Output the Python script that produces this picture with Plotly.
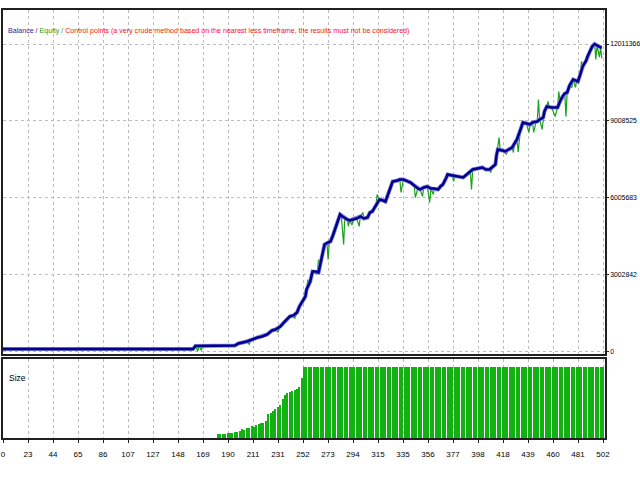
import plotly.graph_objects as go

# ---------------- data ----------------
x_tick_labels = ["0", "23", "44", "65", "86", "107", "127", "148", "169", "190", "211", "231",
                 "252", "273", "294", "315", "335", "356", "377", "398", "418", "439", "460",
                 "481", "502"]
y_tick_values = [0, 3002842, 6005683, 9008525, 12011366]

balance_t = [0, 159, 161, 194, 197, 204, 213, 217, 221, 225, 228, 232, 235, 238, 240, 243, 246,
             248, 250, 253, 254, 257, 259, 262, 264, 266, 269, 272, 274, 276, 278, 280, 282, 284,
             288, 290, 293, 296, 299, 302, 305, 307, 309, 312, 315, 318, 320, 323, 326, 330, 332,
             335, 337, 341, 344, 347, 349, 352, 355, 358, 361, 364, 366, 368, 371, 372, 376, 380,
             382, 385, 388, 391, 393, 397, 401, 404, 407, 410, 412, 413, 414, 418, 420, 423, 426,
             428, 430, 433, 435, 438, 441, 443, 447, 449, 452, 453, 455, 459, 464, 466, 468, 470,
             472, 474, 477, 479, 481, 483, 485, 488, 489, 491, 493, 495, 497, 500, 501]
balance_v = [117000, 117000, 234000, 253500, 331500, 409500, 565500, 604500, 682500, 838500,
             877500, 994500, 1150500, 1306500, 1384500, 1423500, 1540500, 1774500, 1930500,
             2164500, 2437500, 2749500, 3139500, 3139500, 3100500, 3529500, 4192500, 4270500,
             4309500, 4543500, 4777500, 5089500, 5362500, 5284500, 5167500, 5128500, 5167500,
             5206500, 5284500, 5206500, 5245500, 5440500, 5479500, 5713500, 5947500, 5908500,
             5869500, 6259500, 6649500, 6688500, 6727500, 6727500, 6688500, 6610500, 6493500,
             6376500, 6337500, 6415500, 6454500, 6376500, 6376500, 6337500, 6454500, 6532500,
             6805500, 6922500, 6883500, 6844500, 6805500, 6805500, 6922500, 7039500, 7117500,
             7156500, 7195500, 7117500, 7117500, 7234500, 7312500, 7702500, 7897500, 7858500,
             7819500, 7897500, 7975500, 8131500, 8287500, 8677500, 8950500, 8911500, 8872500,
             8950500, 8989500, 9067500, 9145500, 9379500, 9574500, 9535500, 9535500, 9769500,
             9964500, 10081500, 10120500, 10393500, 10627500, 10588500, 10549500, 10822500,
             11134500, 11368500, 11524500, 11719500, 11914500, 12011366, 11953500, 11875500,
             11875500]

equity_t = [0, 159, 161, 163, 164, 166, 167, 194, 197, 204, 206, 207, 213, 221, 225, 228, 230,
            232, 238, 240, 243, 244, 246, 250, 253, 254, 255, 257, 259, 263, 264, 265, 266, 269,
            271, 272, 273, 274, 278, 280, 282, 283, 284, 285, 286, 288, 289, 290, 292, 293, 296,
            298, 299, 301, 302, 305, 307, 309, 312, 313, 315, 318, 320, 323, 326, 330, 332, 333,
            335, 337, 341, 344, 345, 347, 349, 351, 352, 355, 357, 358, 360, 361, 364, 366, 368,
            371, 372, 376, 377, 378, 380, 382, 385, 388, 391, 392, 393, 397, 401, 404, 407, 408,
            410, 412, 413, 414, 415, 416, 418, 420, 421, 423, 426, 427, 428, 430, 431, 432, 433,
            435, 438, 440, 441, 443, 444, 446, 447, 448, 449, 451, 452, 453, 455, 456, 457, 459,
            462, 464, 465, 466, 468, 470, 471, 472, 474, 476, 477, 479, 480, 481, 483, 484, 485,
            488, 489, 491, 493, 495, 496, 497, 499, 500, 501]
equity_v = [117000, 117000, 234000, 30000, 234000, 60000, 234000, 253500, 331500, 409500,
            300000, 409500, 565500, 682500, 838500, 877500, 780000, 994500, 1306500, 1384500,
            1423500, 1300000, 1540500, 1930500, 2164500, 2437500, 2800000, 2749500, 3139500,
            3139500, 3607500, 3100500, 3529500, 4192500, 4250000, 3607500, 4290000, 4309500,
            4777500, 5089500, 5362500, 5330000, 4777500, 4192500, 5250000, 5167500, 4900000,
            5128500, 4950000, 5167500, 5206500, 4900000, 5284500, 5440500, 5206500, 5245500,
            5440500, 5479500, 5713500, 6142500, 5947500, 5908500, 5869500, 6259500, 6649500,
            6688500, 6727500, 6220000, 6727500, 6688500, 6610500, 6493500, 6025000, 6376500,
            6337500, 6064500, 6415500, 6454500, 5830000, 6376500, 6142500, 6376500, 6337500,
            6454500, 6532500, 6805500, 6922500, 6883500, 6650000, 6870000, 6844500, 6805500,
            6805500, 6922500, 7039500, 6337500, 7117500, 7156500, 7195500, 7117500, 7117500,
            7000000, 7234500, 7312500, 7702500, 7897500, 8365500, 7880000, 7858500, 7819500,
            7702500, 7897500, 7975500, 7780000, 8131500, 8287500, 7800000, 8400000, 8677500,
            8950500, 8911500, 8560500, 8872500, 8950500, 8560000, 8970000, 8989500, 9847500,
            9067500, 8677500, 9145500, 9379500, 9574500, 9769500, 9550000, 9535500, 9184500,
            9535500, 10159500, 9769500, 9964500, 10081500, 9184500, 10120500, 10393500,
            10315000, 10627500, 10315000, 10588500, 10549500, 10822500, 11329500, 11134500,
            11368500, 11524500, 11719500, 11914500, 12011366, 11407500, 11953500, 11500000,
            11875500, 11450000]

size_t = list(range(180, 503, 2))
size_v = [0.04, 0.04, 0.04, 0.04, 0.05, 0.05, 0.05, 0.06, 0.06, 0.07, 0.09, 0.08, 0.10, 0.10,
          0.12, 0.11, 0.13, 0.14, 0.15, 0.15, 0.17, 0.24, 0.25, 0.27, 0.29, 0.31, 0.33, 0.38,
          0.42, 0.44, 0.45, 0.46, 0.47, 0.48, 0.50, 0.59,
          0.70, 0.70, 0.70, 0.70, 0.70, 0.70, 0.70, 0.70, 0.70, 0.70, 0.70, 0.70, 0.70, 0.70,  # 1
          0.70, 0.70, 0.70, 0.70, 0.70, 0.70, 0.70, 0.70, 0.70, 0.70, 0.70, 0.70, 0.70, 0.70,  # 2
          0.70, 0.70, 0.70, 0.70, 0.70, 0.70, 0.70, 0.70, 0.70, 0.70, 0.70, 0.70, 0.70, 0.70,  # 3
          0.70, 0.70, 0.70, 0.70, 0.70, 0.70, 0.70, 0.70, 0.70, 0.70, 0.70, 0.70, 0.70, 0.70,  # 4
          0.70, 0.70, 0.70, 0.70, 0.70, 0.70, 0.70, 0.70, 0.70, 0.70, 0.70, 0.70, 0.70, 0.70,  # 5
          0.70, 0.70, 0.70, 0.70, 0.70, 0.70, 0.70, 0.70, 0.70, 0.70, 0.70, 0.70, 0.70, 0.70,  # 6
          0.70, 0.70, 0.70, 0.70, 0.70, 0.70, 0.70, 0.70, 0.70, 0.70, 0.70, 0.70, 0.70, 0.70,  # 7
          0.70, 0.70, 0.70, 0.70, 0.70, 0.70, 0.70, 0.70, 0.70, 0.70, 0.70, 0.70, 0.70, 0.70,  # 8
          0.70, 0.70, 0.70, 0.70, 0.70, 0.70, 0.70, 0.70, 0.70, 0.70, 0.70, 0.70, 0.70, 0.70]  # 9

# ---------------- figure ----------------
FONT = "Liberation Sans, Arial, sans-serif"
x_max = 503.67
tickpos = [i * 502 / 24 for i in range(len(x_tick_labels))]

fig = go.Figure()
fig.add_trace(go.Scatter(x=equity_t, y=equity_v, mode="lines",
                         line=dict(color="#1aa01a", width=1.2), xaxis="x", yaxis="y",
                         hoverinfo="skip"))
fig.add_trace(go.Scatter(x=balance_t, y=balance_v, mode="lines",
                         line=dict(color="#8080e0", width=4), xaxis="x", yaxis="y",
                         hoverinfo="skip"))
fig.add_trace(go.Scatter(x=balance_t, y=balance_v, mode="lines",
                         line=dict(color="#00008b", width=2.5), xaxis="x", yaxis="y",
                         hoverinfo="skip"))
fig.add_trace(go.Bar(x=size_t, y=size_v, width=1.0, marker=dict(color="#12b012", line_width=0),
                     xaxis="x2", yaxis="y2", hoverinfo="skip"))

grid = dict(showgrid=True, gridcolor="#bcbcbc", gridwidth=1, griddash="dot")
axbox = dict(showline=True, linecolor="#202020", linewidth=1.5, mirror=True, zeroline=False)

fig.update_layout(
    width=640, height=480,
    margin=dict(l=3, r=35, t=10, b=42),
    paper_bgcolor="white", plot_bgcolor="white",
    showlegend=False, bargap=0,
    font=dict(family=FONT, size=8, color="black"),
    xaxis=dict(domain=[0, 1], range=[0, x_max], tickvals=tickpos, ticktext=x_tick_labels,
               showticklabels=False, ticks="", anchor="y", **grid, **axbox),
    yaxis=dict(domain=[0.1974, 1], range=[-60000, 13337296], side="right",
               tickvals=y_tick_values, ticktext=[str(v) for v in y_tick_values],
               ticks="outside", ticklen=2, tickcolor="#202020", automargin=False,
               tickfont=dict(family=FONT, size=6.9), anchor="x", **grid, **axbox),
    xaxis2=dict(domain=[0, 1], range=[0, x_max], tickvals=tickpos, ticktext=x_tick_labels,
                ticks="outside", ticklen=3, tickcolor="#202020", anchor="y2",
                tickfont=dict(family=FONT, size=8), ticklabelstandoff=5,
                ticklabeloverflow="allow", automargin=False, **grid, **axbox),
    yaxis2=dict(domain=[0, 0.1846], range=[0, 0.779], showticklabels=False, showgrid=False,
                ticks="", anchor="x2", **axbox),
    annotations=[
        dict(xref="paper", yref="paper", x=0.005, y=0.951, xanchor="left", yanchor="middle",
             showarrow=False, font=dict(family=FONT, size=7.1),
             text='<span style="color:#1c1caa">Balance / </span>'
                  '<span style="color:#18a018">Equity / </span>'
                  '<span style="color:#ff1010">Control points (a very crude method based on the '
                  'nearest less timeframe, the results must not be considered)</span>'),
        dict(xref="paper", yref="paper", x=0.006, y=0.140, xanchor="left", yanchor="middle",
             showarrow=False, font=dict(family=FONT, size=8.5, color="black"), text="Size"),
    ],
)

fig.write_html("out.html", config={"displayModeBar": False},
               post_script="document.body.style.margin='0';")
